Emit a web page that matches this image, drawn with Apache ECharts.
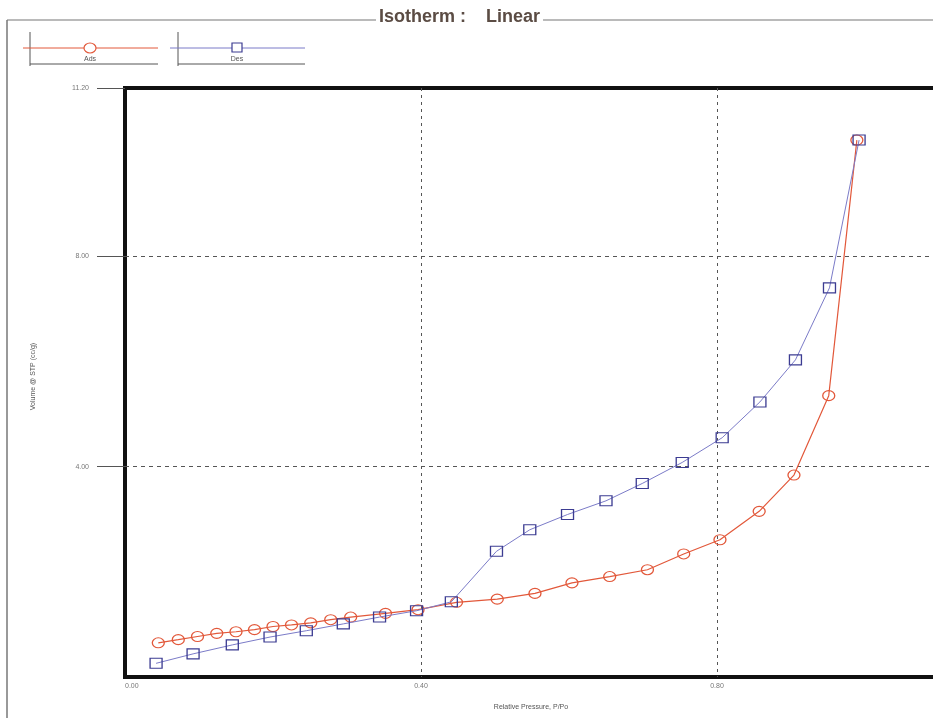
<!DOCTYPE html>
<html>
<head>
<meta charset="utf-8">
<script src="https://cdn.jsdelivr.net/npm/echarts@6/dist/echarts.min.js"></script>
<style>
html,body{margin:0;padding:0;background:#fff;}
#chart{width:933px;height:718px;}
</style>
</head>
<body>
<div id="chart"></div>
<script>
// Relative pressure (P/Po) and volume adsorbed (cc/g STP)
var adsP = [0.045,0.072,0.098,0.124,0.150,0.175,0.200,0.225,0.251,0.278,0.305,0.352,0.396,0.448,0.503,0.554,0.604,0.655,0.706,0.755,0.804,0.857,0.904,0.951,0.989];
var adsV = [0.65,0.71,0.77,0.83,0.86,0.90,0.96,0.99,1.03,1.09,1.14,1.21,1.28,1.42,1.48,1.59,1.79,1.91,2.04,2.34,2.61,3.15,3.84,5.35,10.21];
var desP = [0.992,0.952,0.906,0.858,0.807,0.753,0.699,0.650,0.598,0.547,0.502,0.441,0.394,0.344,0.295,0.245,0.196,0.145,0.092,0.042];
var desV = [10.21,7.40,6.03,5.23,4.55,4.08,3.68,3.35,3.09,2.80,2.39,1.43,1.26,1.14,1.01,0.88,0.76,0.61,0.44,0.26];
var seriesNames = ['Ads','Des'];
var titleText = 'Isotherm :    Linear';
var xAxisTitle = 'Relative Pressure, P/Po';
var yAxisTitle = 'Volume @ STP (cc/g)';

function pairs(xs, ys){ return xs.map(function(x,i){ return [x, ys[i]]; }); }

var FONT = '"Liberation Sans", Arial, sans-serif';
var adsColor = '#e2583a';
var desLine = '#7b7bc8';
var desMark = '#3c3c92';

var chart = echarts.init(document.getElementById('chart'));
chart.setOption({
  backgroundColor: '#fff',
  animation: false,
  title: {
    text: titleText,
    left: 376, top: 8,
    padding: [0, 3],
    backgroundColor: '#fff',
    textStyle: {fontFamily: FONT, fontSize: 18, fontWeight: 'bold', color: '#5b4c44'}
  },
  graphic: [
    {type:'line', z:0, shape:{x1:7,y1:20,x2:933,y2:20}, style:{stroke:'#777',lineWidth:1.2}},
    {type:'line', z:0, shape:{x1:7,y1:20,x2:7,y2:718}, style:{stroke:'#777',lineWidth:1.5}},
    // legend: Ads
    {type:'line', shape:{x1:30,y1:32,x2:30,y2:66}, style:{stroke:'#555',lineWidth:1}},
    {type:'line', shape:{x1:23,y1:48,x2:158,y2:48}, style:{stroke:adsColor,lineWidth:1}},
    {type:'ellipse', shape:{cx:90,cy:48,rx:6,ry:5}, style:{stroke:adsColor,fill:'#fff',lineWidth:1.2}},
    {type:'text', style:{x:90,y:59,text:seriesNames[0],align:'center',verticalAlign:'middle',fontSize:7,fontFamily:FONT,fill:'#555'}},
    {type:'line', shape:{x1:30,y1:64,x2:158,y2:64}, style:{stroke:'#555',lineWidth:1}},
    // legend: Des
    {type:'line', shape:{x1:178,y1:32,x2:178,y2:66}, style:{stroke:'#555',lineWidth:1}},
    {type:'line', shape:{x1:170,y1:48,x2:305,y2:48}, style:{stroke:desLine,lineWidth:1}},
    {type:'rect', shape:{x:232,y:43,width:10,height:9}, style:{stroke:desMark,fill:'#fff',lineWidth:1.2}},
    {type:'text', style:{x:237,y:59,text:seriesNames[1],align:'center',verticalAlign:'middle',fontSize:7,fontFamily:FONT,fill:'#555'}},
    {type:'line', shape:{x1:178,y1:64,x2:305,y2:64}, style:{stroke:'#555',lineWidth:1}}
  ],
  grid: {
    left: 125, top: 88, width: 888, height: 589,
    outerBoundsMode: 'none', containLabel: false,
    show: true, borderColor: '#111', borderWidth: 4, backgroundColor: 'transparent'
  },
  xAxis: {
    type: 'value', min: 0, max: 1.2, interval: 0.4,
    name: xAxisTitle, nameLocation: 'middle', nameGap: 27,
    nameTextStyle: {fontFamily: FONT, fontSize: 7, color: '#555', padding: [0, 76, 0, 0]},
    axisLine: {show: false}, axisTick: {show: false},
    axisLabel: {
      margin: 6, fontSize: 7, fontFamily: FONT, color: '#777',
      alignMinLabel: 'left',
      formatter: function(v){ return v.toFixed(2); }
    },
    splitLine: {show: true, showMinLine: false, showMaxLine: false, lineStyle: {color: '#555', type: [3, 4], width: 1}}
  },
  yAxis: {
    type: 'value', min: 0, max: 11.2, interval: 4,
    name: yAxisTitle, nameLocation: 'middle', nameGap: 88, nameRotate: 90,
    nameTextStyle: {fontFamily: FONT, fontSize: 7, color: '#555', padding: [0, 0, 0, 12]},
    axisLine: {show: false},
    axisTick: {show: true, length: 28, lineStyle: {color: '#555', width: 1}},
    axisLabel: {
      margin: 36, fontSize: 7, fontFamily: FONT, color: '#777', showMinLabel: false,
      formatter: function(v){ return v.toFixed(2); }
    },
    splitLine: {show: true, showMinLine: false, showMaxLine: false, lineStyle: {color: '#555', type: [4, 4], width: 1}}
  },
  series: [
    {
      name: seriesNames[0], type: 'line', data: pairs(adsP, adsV),
      symbol: 'circle', symbolSize: [12, 10],
      itemStyle: {color: 'rgba(255,255,255,0)', borderColor: adsColor, borderWidth: 1.2},
      lineStyle: {color: adsColor, width: 1.2}, z: 3
    },
    {
      name: seriesNames[1], type: 'line', data: pairs(desP, desV),
      symbol: 'rect', symbolSize: [12, 10],
      itemStyle: {color: 'rgba(255,255,255,0)', borderColor: desMark, borderWidth: 1.2},
      lineStyle: {color: desLine, width: 1}, z: 4
    }
  ]
});
</script>
</body>
</html>
